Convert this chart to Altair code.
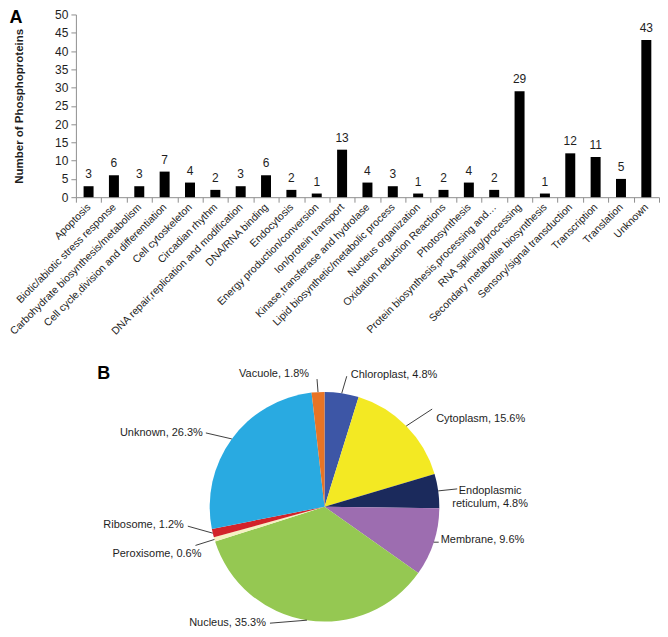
import altair as alt
import pandas as pd

# ---------------- data: panel A ----------------
categories = [
    "Apoptosis", "Biotic/abiotic stress response", "Carbohydrate biosynthesis/metabolism",
    "Cell cycle,division and differentiation", "Cell cytoskeleton", "Circadian rhythm",
    "DNA repair,replication and modification", "DNA/RNA binding", "Endocytosis",
    "Energy production/conversion", "Ion/protein transport", "Kinase,transferase and hydrolase",
    "Lipid biosynthetic/metabolic process", "Nucleus organization", "Oxidation reduction Reactions",
    "Photosynthesis", "Protein biosynthesis,processing and…", "RNA splicing/processing",
    "Secondary metabolite biosynthesis", "Sensory/signal transduction", "Transcription",
    "Translation", "Unknown",
]
counts = [3, 6, 3, 7, 4, 2, 3, 6, 2, 1, 13, 4, 3, 1, 2, 4, 2, 29, 1, 12, 11, 5, 43]

# ---------------- data: panel B ----------------
locations = ["Chloroplast", "Cytoplasm", "Endoplasmic reticulum", "Membrane", "Nucleus",
             "Peroxisome", "Ribosome", "Unknown", "Vacuole"]
percentages = [4.8, 15.6, 4.8, 9.6, 35.3, 0.6, 1.2, 26.3, 1.8]
pie_colors = ["#3d56a6", "#f3e923", "#1b2a5c", "#9d6db0", "#95c852", "#f6f1c2",
              "#d2232a", "#29aae1", "#e87425"]

# label layout (pixel offsets from the slice's outer edge point; styling only)
leader_dx = [5, 26, 19, 5, -37, -19, -25, -26, -1]
leader_dy = [-17, -17, -2, 0, 3, 6, -7, -6, -13]
text_dx = [9, 30, 52, 7, -41, -13, -29, -29, -9]
text_dy = [-18, -7, 0, -2, 3, 15, -8, -6, -18]
text_side = ["left", "left", "center", "left", "right", "right", "right", "right", "right"]

FONT = "Liberation Sans"
AXIS_GRAY = "#8f8f8f"
TEXT = "#1e1e1e"

bar_df = pd.DataFrame({"category": categories, "count": counts})

x_axis = alt.Axis(title=None, labelAngle=-45, labelAlign="right", labelBaseline="middle",
                  labelFontSize=10.5, labelColor=TEXT, labelLimit=400, labelPadding=3,
                  tickBand="extent", tickSize=5, tickColor=AXIS_GRAY,
                  domainColor=AXIS_GRAY, labelOverlap=False)
y_axis = alt.Axis(title="Number of Phosphoproteins", values=list(range(0, 51, 5)),
                  grid=False, tickSize=5, tickColor=AXIS_GRAY, domainColor=AXIS_GRAY,
                  labelFontSize=12, labelColor=TEXT, labelPadding=3, labelOverlap=False,
                  titleFontSize=11.5, titleFontWeight="bold", titleColor=TEXT,
                  titlePadding=30)
x_enc = alt.X("category:N", sort=None, scale=alt.Scale(paddingInner=0, paddingOuter=0),
              axis=x_axis)
y_enc = alt.Y("count:Q", scale=alt.Scale(domain=[0, 50], nice=False), axis=y_axis)

bar_base = alt.Chart(bar_df)
bars = bar_base.mark_bar(width=10, color="#000000").encode(x=x_enc, y=y_enc)
bar_labels = bar_base.mark_text(baseline="bottom", dy=-5, fontSize=12, color=TEXT).encode(
    x=x_enc, y=y_enc, text=alt.Text("count:Q"),
)
letter_a = alt.Chart(pd.DataFrame({"t": ["A"]})).mark_text(
    fontSize=18, fontWeight="bold", color="#000", align="center", baseline="middle"
).encode(x=alt.value(-60), y=alt.value(4), text="t:N")

panel_a = alt.layer(bars, bar_labels, letter_a).properties(width=584, height=183)

# ---------------- pie ----------------
R = 115
PW, PH = 498, 230
XD = PW / 2 / R
YD = PH / 2 / R

labels = []
for name, p in zip(locations, percentages):
    labels.append(f"{name}, {p}%")
pie_df = pd.DataFrame({
    "loc": locations, "pct": percentages, "idx": list(range(len(locations))),
    "label": labels, "ldx": leader_dx, "ldy": leader_dy, "tdx": text_dx, "tdy": text_dy,
    "side": text_side,
})

xs = alt.Scale(domain=[-XD, XD], nice=False, zero=False)
ys = alt.Scale(domain=[-YD, YD], nice=False, zero=False)

pie_base = alt.Chart(pie_df)
arcs = pie_base.mark_arc(outerRadius=R).encode(
    theta=alt.Theta("pct:Q", stack=True),
    color=alt.Color("loc:N", scale=alt.Scale(domain=locations, range=pie_colors), legend=None),
    order=alt.Order("idx:Q"),
)

geo = pie_base.transform_joinaggregate(total="sum(pct)").transform_window(
    cum="sum(pct)", sort=[alt.SortField("idx")], frame=[None, 0]
).transform_calculate(
    mid="(datum.cum - datum.pct / 2) / datum.total * 2 * PI",
    ex="sin(datum.mid)",
    ey="cos(datum.mid)",
    lx=f"datum.ex + datum.ldx / {R}",
    ly=f"datum.ey - datum.ldy / {R}",
    tx=f"datum.ex + datum.tdx / {R}",
    ty=f"datum.ey - datum.tdy / {R}",
    label2="replace(datum.label, 'Endoplasmic ', 'Endoplasmic\\n')",
)

leaders = geo.transform_fold(["ex", "lx"], as_=["pt", "px"]).transform_calculate(
    py="datum.pt == 'ex' ? datum.ey : datum.ly"
).mark_line(color="#2a2a2a", strokeWidth=0.9).encode(
    x=alt.X("px:Q", scale=xs, axis=None),
    y=alt.Y("py:Q", scale=ys, axis=None),
    detail="loc:N",
    order=alt.Order("pt:N"),
)

def text_layer(side):
    return geo.transform_filter(alt.datum.side == side).mark_text(
        align=side, baseline="middle", fontSize=11, color=TEXT, lineBreak="\n", lineHeight=13
    ).encode(
        x=alt.X("tx:Q", scale=xs, axis=None), y=alt.Y("ty:Q", scale=ys, axis=None),
        text="label2:N",
    )

letter_b = alt.Chart(pd.DataFrame({"t": ["B"]})).mark_text(
    fontSize=18, fontWeight="bold", color="#000", align="center", baseline="middle"
).encode(x=alt.value(28), y=alt.value(-18), text="t:N")

panel_b = alt.layer(arcs, leaders, text_layer("left"), text_layer("right"),
                    text_layer("center"), letter_b).properties(width=PW, height=PH)

chart = alt.vconcat(panel_a, panel_b, spacing=27).configure(font=FONT).configure_view(
    stroke=None
).properties(
    padding={"left": 0, "top": 0, "right": 0, "bottom": 0}
)

chart.save("out.html", embed_options={"renderer": "svg", "actions": False})
